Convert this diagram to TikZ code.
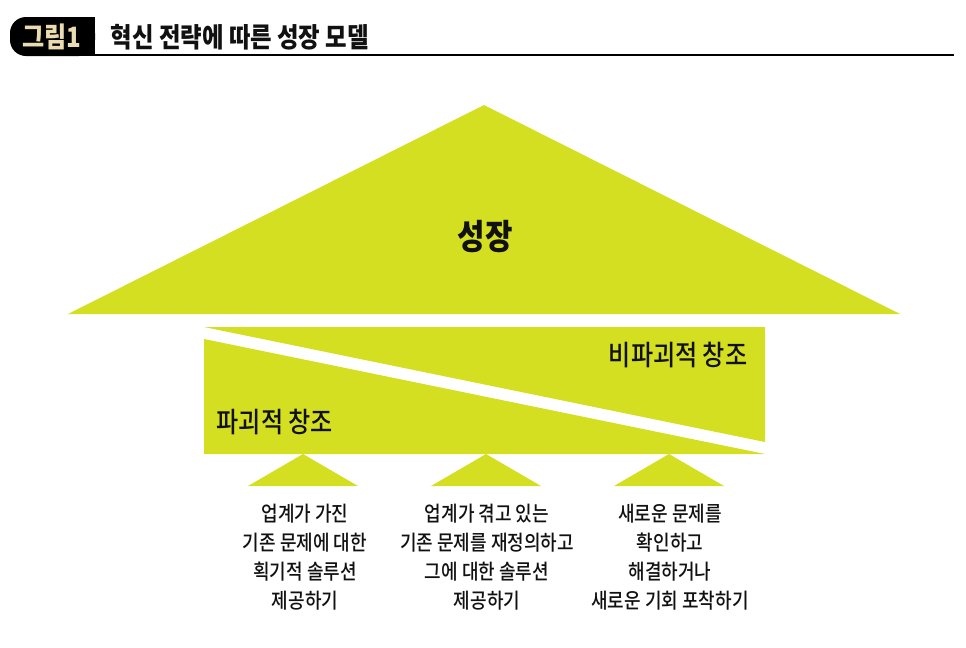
\documentclass[tikz,border=0pt]{standalone}
\usepackage{fontspec}
\usepackage{xcolor}
\usepackage{tikz}
\newfontfamily\krfont[FakeStretch=0.86]{Noto Sans CJK KR}
\newfontfamily\krmed[FakeStretch=0.86]{Noto Sans CJK KR Medium}
\definecolor{lime}{HTML}{D5DF21}
\definecolor{ink}{HTML}{111111}
\definecolor{tabtext}{HTML}{EADBB0}
\tikzset{
  limeShape/.style={fill=lime, draw=none},
  tabShape/.style={fill=black},
  tabText/.style={text=tabtext, font=\krfont\bfseries\fontsize{21}{24}\selectfont},
  titleText/.style={text=ink, font=\krfont\bfseries\fontsize{20.4}{24}\selectfont, anchor=west},
  bigText/.style={text=ink, font=\krfont\bfseries\fontsize{26}{30}\selectfont},
  midText/.style={text=ink, font=\krmed\fontsize{21}{24}\selectfont},
  noteText/.style={text=ink, font=\krmed\fontsize{15.7}{21.75}\selectfont, align=center}
}
\begin{document}
\begin{tikzpicture}[x=0.75pt, y=-0.75pt]
  \useasboundingbox (0,0) rectangle (966,647);

  % header
  \fill[tabShape, rounded corners=12] (10,17) rectangle (95,56);
  \fill[tabShape] (60,17) rectangle (95,56);
  \draw[line width=1.5pt] (95,55) -- (954,55);
  \node[tabText] (tab) at (52,37) {그림1};
  \node[titleText] (title) at (106,37) {혁신 전략에 따른 성장 모델};

  % roof
  \fill[limeShape] (484,105) -- (900,314) -- (68,314) -- cycle;
  \node[bigText] (growth) at (485,237) {성장};

  % split block
  \fill[limeShape] (204,327) -- (765,327) -- (765,442) -- cycle;
  \fill[limeShape] (204,339) -- (765,454) -- (204,454) -- cycle;
  \node[midText, anchor=east] (nondisrupt) at (752,355) {비파괴적 창조};
  \node[midText, anchor=west] (disrupt) at (212,422) {파괴적 창조};

  % supports
  \foreach \cx in {303,486,669}
    \fill[limeShape] (\cx,454) -- (\cx+55,486) -- (\cx-55,486) -- cycle;

  \node[noteText] (noteA) at (305,557) {업계가 가진\\기존 문제에 대한\\획기적 솔루션\\제공하기};
  \node[noteText] (noteB) at (487,557) {업계가 겪고 있는\\기존 문제를 재정의하고\\그에 대한 솔루션\\제공하기};
  \node[noteText] (noteC) at (670,557) {새로운 문제를\\확인하고\\해결하거나\\새로운 기회 포착하기};
\end{tikzpicture}
\end{document}
